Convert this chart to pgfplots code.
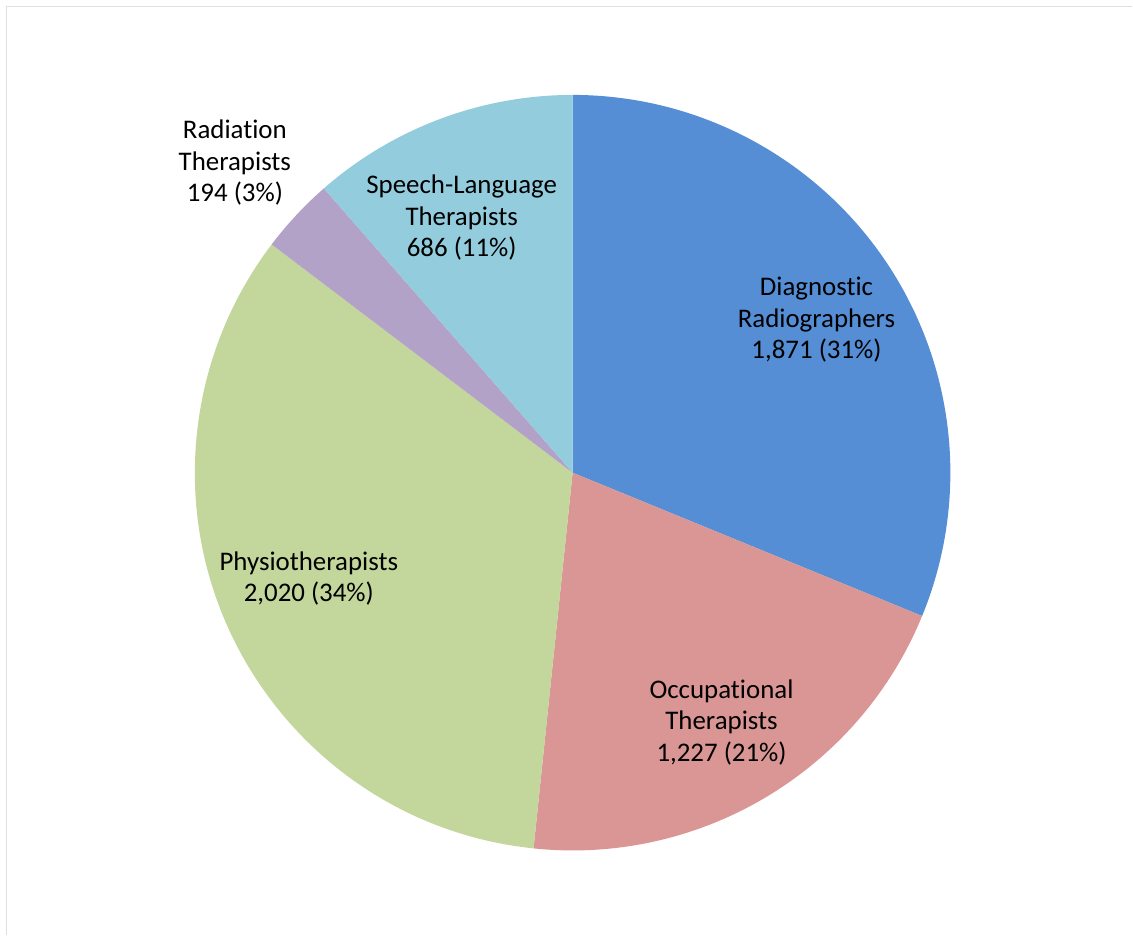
\documentclass[border=0pt]{standalone}
\usepackage{pgfplots}
\pgfplotsset{compat=1.18}
\usepackage{fontspec}
\setmainfont{Carlito}[Ligatures=NoCommon]

\definecolor{diag}{HTML}{558ED5}
\definecolor{occu}{HTML}{D99694}
\definecolor{phys}{HTML}{C3D69B}
\definecolor{radi}{HTML}{B3A2C7}
\definecolor{spee}{HTML}{93CDDD}

% staff counts, clockwise from 12 o'clock
\def\slices{1871/diag, 1227/occu, 2020/phys, 194/radi, 686/spee}
\def\total{5998}

\begin{document}
\begin{tikzpicture}
  \begin{axis}[
      x=1bp, y=1bp,
      xmin=0, xmax=1133, ymin=0, ymax=936,
      hide axis,
      scale only axis,
      clip=false,
    ]
    \path (axis cs:0,0) rectangle (axis cs:1133,936);
    % frame
    \draw[gray!25, line width=1.5bp] (axis cs:6.5,0) -- (axis cs:6.5,929.5) -- (axis cs:1133,929.5);

    % pie, centre (573,463), radius 378
    \xdef\a{90}
    \foreach \v/\c in \slices {
      \pgfmathsetmacro{\b}{\a-360*(\v/\total)}
      \edef\temp{\noexpand\fill[\c] (axis cs:573,463) -- (axis cs:{573+378*cos(\a)},{463+378*sin(\a)})
        arc[start angle=\a, end angle=\b, radius=378bp] -- cycle;}
      \temp
      \xdef\a{\b}
    }

    \begin{scope}[every node/.style={align=center, font=\fontsize{27}{31.5}\selectfont, text=black, inner sep=0pt}]
      \node at (axis cs:817,616) {Diagnostic\\Radiographers\\1,871 (31\%)};
      \node at (axis cs:722,213) {Occupational\\Therapists\\1,227 (21\%)};
      \node at (axis cs:309,357) {Physiotherapists\\2,020 (34\%)};
      \node at (axis cs:235,773) {Radiation\\Therapists\\194 (3\%)};
      \node at (axis cs:462,718) {Speech-Language\\Therapists\\686 (11\%)};
    \end{scope}
  \end{axis}
\end{tikzpicture}
\end{document}
